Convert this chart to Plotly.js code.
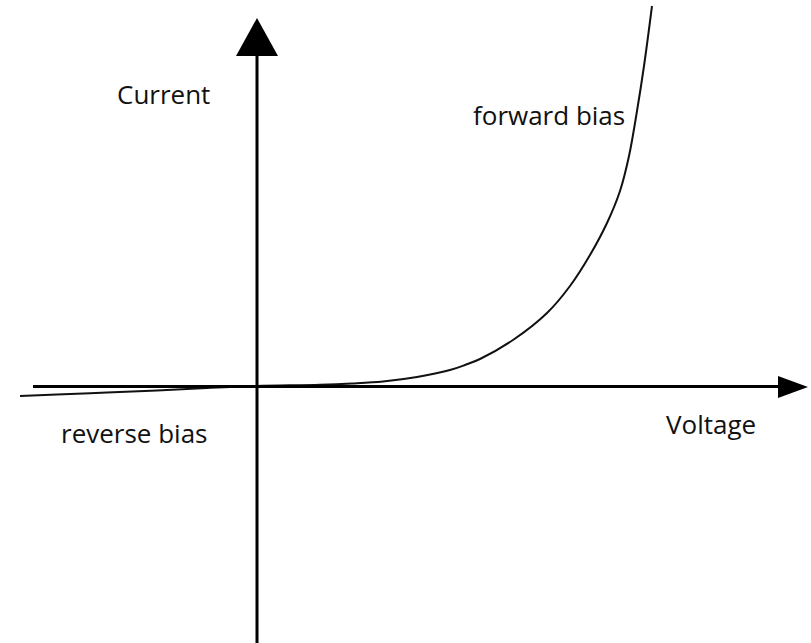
<!DOCTYPE html>
<html>
<head>
<meta charset="utf-8">
<script src="https://cdn.plot.ly/plotly-3.0.1.min.js"></script>
<style>html,body{margin:0;padding:0;background:#fff;}#chart{width:811px;height:643px;}</style>
</head>
<body>
<div id="chart"></div>
<script>
// Diode I-V characteristic (arbitrary units; origin at axis crossing)
const voltage = [-2.37, -2.0, -1.5, -1.0, -0.5, 0, 0.63, 0.95, 1.26, 1.6, 1.93, 2.08, 2.23, 2.56, 2.90, 3.13, 3.33, 3.50, 3.63, 3.72, 3.80, 3.87, 3.95];
const current = [-0.10, -0.085, -0.065, -0.045, -0.02, 0, 0.012, 0.025, 0.045, 0.09, 0.16, 0.21, 0.27, 0.46, 0.73, 1.0, 1.31, 1.63, 1.95, 2.30, 2.75, 3.20, 3.80];
const labels = ["Current", "Voltage", "forward bias", "reverse bias"];

const trace = {
  x: voltage, y: current, type: 'scatter', mode: 'lines',
  line: {color: '#111', width: 2, shape: 'spline', smoothing: 1},
  hoverinfo: 'skip'
};

// helpers: convert page pixel positions to data units (100 px = 1 unit)
const px = p => (p - 257) / 100;
const py = q => (386 - q) / 100;

const shapes = [
  {type: 'line', x0: px(33), x1: px(782), y0: py(386.5), y1: py(386.5), line: {color: '#000', width: 3}},
  {type: 'line', x0: px(257), x1: px(257), y0: py(645), y1: py(50), line: {color: '#000', width: 3}},
  {type: 'path', path: `M ${px(257)} ${py(18)} L ${px(236)} ${py(56)} L ${px(278)} ${py(56)} Z`, fillcolor: '#000', line: {width: 0}},
  {type: 'path', path: `M ${px(808)} ${py(387)} L ${px(778)} ${py(376)} L ${px(778)} ${py(398)} Z`, fillcolor: '#000', line: {width: 0}}
];

const font = {family: 'Open Sans, Noto Sans, sans-serif', size: 26, color: '#111'};
const annotations = [
  {x: px(115), y: py(94), text: labels[0], xanchor: 'left', yanchor: 'middle', showarrow: false, font},
  {x: px(664), y: py(424), text: labels[1], xanchor: 'left', yanchor: 'middle', showarrow: false, font},
  {x: px(471), y: py(115), text: labels[2], xanchor: 'left', yanchor: 'middle', showarrow: false, font},
  {x: px(59), y: py(433), text: labels[3], xanchor: 'left', yanchor: 'middle', showarrow: false, font}
];

const layout = {
  width: 811, height: 643,
  margin: {l: 0, r: 0, t: 0, b: 0},
  paper_bgcolor: '#fff', plot_bgcolor: '#fff',
  showlegend: false,
  xaxis: {range: [px(0), px(811)], visible: false, fixedrange: true},
  yaxis: {range: [py(643), py(0)], visible: false, fixedrange: true},
  shapes, annotations
};

Plotly.newPlot('chart', [trace], layout, {displayModeBar: false, staticPlot: true});
</script>
</body>
</html>
